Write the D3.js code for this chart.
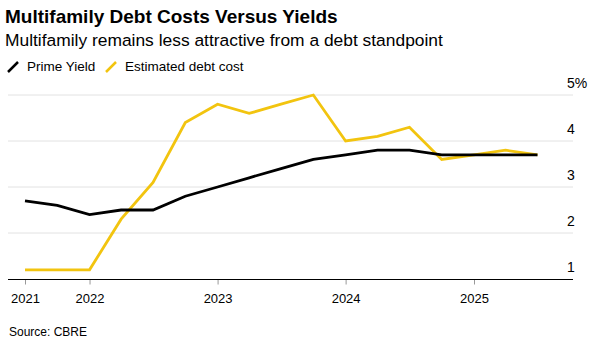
<!DOCTYPE html>
<html lang="en">
  <head>
    <meta charset="utf-8">
    <title>Multifamily Debt Costs Versus Yields</title>
    <script src="https://cdn.jsdelivr.net/npm/d3@7"></script>
    <style>
      body { margin: 0; background: #fff; font-family: "Liberation Sans", Arial, sans-serif; }
      .title { font-weight: bold; font-size: 19px; fill: #000; }
      .subtitle { font-size: 17.4px; fill: #000; }
      .legend { font-size: 13.5px; fill: #000; }
      .yaxis text { font-size: 14px; fill: #000; }
      .xaxis text { font-size: 13px; fill: #000; }
      .source { font-size: 12px; fill: #000; }
    </style>
  </head>
  <body>
    <script>

    // quarterly observations
    var quarters = ["2021-07-01", "2021-10-01", "2022-01-01", "2022-04-01", "2022-07-01",
                    "2022-10-01", "2023-01-01", "2023-04-01", "2023-07-01", "2023-10-01",
                    "2024-01-01", "2024-04-01", "2024-07-01", "2024-10-01", "2025-01-01",
                    "2025-04-01", "2025-07-01"];
    var primeYield = [2.7, 2.6, 2.4, 2.5, 2.5, 2.8, 3.0, 3.2, 3.4, 3.6, 3.7, 3.8, 3.8, 3.7, 3.7, 3.7, 3.7];
    var debtCost   = [1.2, 1.2, 1.2, 2.3, 3.1, 4.4, 4.8, 4.6, 4.8, 5.0, 4.0, 4.1, 4.3, 3.6, 3.7, 3.8, 3.7];

    var xTickDates  = ["2021-07-01", "2022-01-01", "2023-01-01", "2024-01-01", "2025-01-01"];
    var xTickLabels = ["2021", "2022", "2023", "2024", "2025"];
    var yTicks = [1, 2, 3, 4, 5];

    var W = 601, H = 344;
    var parse = d3.timeParse("%Y-%m-%d");

    var svg = d3.select("body").append("svg")
                .attr("width", W)
                .attr("height", H);

    svg.append("text").attr("class", "title").attr("x", 5).attr("y", 23)
       .text("Multifamily Debt Costs Versus Yields");
    svg.append("text").attr("class", "subtitle").attr("x", 5).attr("y", 46)
       .text("Multifamily remains less attractive from a debt standpoint");

    // legend
    var legend = [{name: "Prime Yield", color: "#000", x: 8}, {name: "Estimated debt cost", color: "#f2c40f", x: 106}];
    var lg = svg.selectAll(".lg").data(legend).enter().append("g")
                .attr("transform", function(d) { return "translate(" + d.x + ",0)"; });
    lg.append("line").attr("x1", 0).attr("y1", 72).attr("x2", 10).attr("y2", 62)
      .attr("stroke", function(d) { return d.color; }).attr("stroke-width", 2.5);
    lg.append("text").attr("class", "legend").attr("x", 19).attr("y", 71)
      .text(function(d) { return d.name; });

    var x = d3.scaleTime()
              .domain([parse("2021-07-01"), parse("2025-01-01")])
              .range([25, 474]);
    var y = d3.scaleLinear().domain([1, 5]).range([279, 95]);
    var left = 8, right = 573;

    // gridlines
    svg.append("g").selectAll("line").data(yTicks.filter(function(t) { return t > 1; })).enter()
       .append("line")
       .attr("x1", left).attr("x2", right)
       .attr("y1", function(d) { return y(d); }).attr("y2", function(d) { return y(d); })
       .attr("stroke", "#e2e2e2").attr("stroke-width", 1);

    // y labels sit above the gridlines on the right
    var yAxis = svg.append("g").attr("class", "yaxis");
    yAxis.selectAll("text").data(yTicks).enter().append("text")
         .attr("x", 567)
         .attr("y", function(d) { return y(d) - 7; })
         .text(function(d) { return d === 5 ? d + "%" : d; });

    // x axis
    var xg = svg.append("g").attr("class", "xaxis")
                .attr("transform", "translate(0,279.5)")
                .call(d3.axisBottom(x)
                        .tickValues(xTickDates.map(parse))
                        .tickFormat(function(d, i) { return xTickLabels[i]; })
                        .tickSize(5).tickPadding(6));
    xg.select(".domain").remove();
    xg.selectAll(".tick line").attr("stroke", "#999");
    xg.selectAll(".tick text").attr("dy", "0.95em");
    svg.append("line").attr("x1", left).attr("x2", right).attr("y1", 279.5).attr("y2", 279.5)
       .attr("stroke", "#000").attr("stroke-width", 1);

    var line = d3.line()
                 .x(function(d, i) { return x(parse(quarters[i])); })
                 .y(function(d) { return y(d); });

    svg.append("path").datum(debtCost).attr("d", line)
       .attr("fill", "none").attr("stroke", "#f2c40f").attr("stroke-width", 2.8);
    svg.append("path").datum(primeYield).attr("d", line)
       .attr("fill", "none").attr("stroke", "#000").attr("stroke-width", 2.8);

    svg.append("text").attr("class", "source").attr("x", 9).attr("y", 336)
       .text("Source: CBRE");

    </script>
  </body>
</html>
